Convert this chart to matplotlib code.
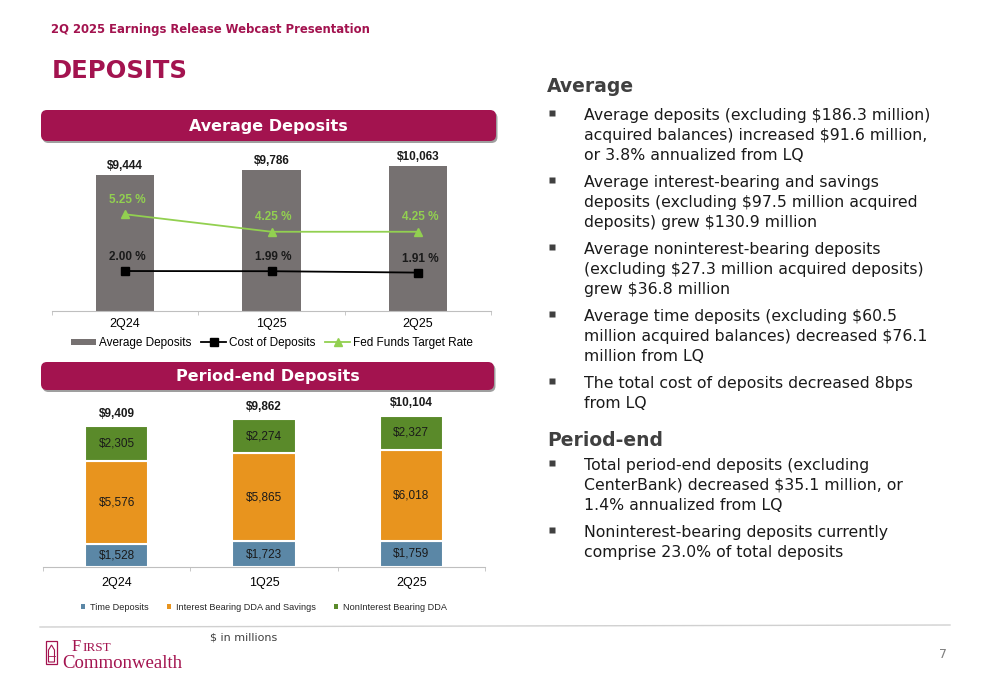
import matplotlib
matplotlib.use('Agg')
import matplotlib.pyplot as plt
from matplotlib.patches import FancyBboxPatch, Rectangle, Polygon
import numpy as np

# ---------------- data ----------------
quarters = ['2Q24', '1Q25', '2Q25']
avg_deposits = [9444, 9786, 10063]
cost_of_deposits = [2.00, 1.99, 1.91]
fed_funds_rate = [5.25, 4.25, 4.25]

time_deposits = [1528, 1723, 1759]
ib_dda_savings = [5576, 5865, 6018]
nonib_dda = [2305, 2274, 2327]
period_end_totals = [9409, 9862, 10104]

avg_bullets = [
    ["Average deposits (excluding $186.3 million)",
     "acquired balances) increased $91.6 million,",
     "or 3.8% annualized from LQ"],
    ["Average interest-bearing and savings",
     "deposits (excluding $97.5 million acquired",
     "deposits) grew $130.9 million"],
    ["Average noninterest-bearing deposits",
     "(excluding $27.3 million acquired deposits)",
     "grew $36.8 million"],
    ["Average time deposits (excluding $60.5",
     "million acquired balances) decreased $76.1",
     "million from LQ"],
    ["The total cost of deposits decreased 8bps",
     "from LQ"],
]
pe_bullets = [
    ["Total period-end deposits (excluding",
     "CenterBank) decreased $35.1 million, or",
     "1.4% annualized from LQ"],
    ["Noninterest-bearing deposits currently",
     "comprise 23.0% of total deposits"],
]

# ---------------- style ----------------
CRIMSON = '#A3134F'
GRAY_BAR = '#767171'
GREEN_LINE = '#92D050'
BLUE = '#5B87A6'
ORANGE = '#E8941E'
GREEN = '#5A8A2A'
ARIAL = 'Liberation Sans'

W, H = 1000, 685
fig = plt.figure(figsize=(10, 6.85), dpi=100)


def fax(x0, y0, x1, y1):
    return [x0 / W, 1 - y1 / H, (x1 - x0) / W, (y1 - y0) / H]


ov = fig.add_axes([0, 0, 1, 1])
ov.set_xlim(0, W)
ov.set_ylim(H, 0)
ov.axis('off')

# header
ov.text(51, 29, "2Q 2025 Earnings Release Webcast Presentation", color=CRIMSON,
        fontsize=8.4, fontweight='bold', ha='left', va='center', family='DejaVu Sans')
ov.text(52, 71, "DEPOSITS", color=CRIMSON, fontsize=17.5, fontweight='bold',
        ha='left', va='center', family='DejaVu Sans')


def banner(x0, y0, x1, y1, title):
    sh = FancyBboxPatch((x0 + 1.5, y0 + 2), x1 - x0, y1 - y0,
                        boxstyle='round,pad=0,rounding_size=6',
                        fc='#777777', ec='none', alpha=0.7)
    ov.add_patch(sh)
    b = FancyBboxPatch((x0, y0), x1 - x0, y1 - y0,
                       boxstyle='round,pad=0,rounding_size=6',
                       fc=CRIMSON, ec='none')
    ov.add_patch(b)
    ov.text((x0 + x1) / 2, (y0 + y1) / 2 + 0.5, title, color='white', fontsize=11.5,
            fontweight='bold', ha='center', va='center', family='DejaVu Sans')


banner(41, 110, 496, 141, "Average Deposits")
banner(41, 362, 494, 390, "Period-end Deposits")

x = np.arange(len(quarters))

# ---------------- top chart ----------------
ax1 = fig.add_axes(fax(52, 145, 491, 311))
ax1.set_facecolor('none')
bars = ax1.bar(x, avg_deposits, width=0.4, color=GRAY_BAR, label='Average Deposits', zorder=2)
ax1.set_xlim(-0.5, 2.5)
ax1.set_ylim(0, 11550)
for s in ['top', 'right', 'left']:
    ax1.spines[s].set_visible(False)
ax1.spines['bottom'].set_color('#BFBFBF')
ax1.set_yticks([])
ax1.set_xticks(x)
ax1.set_xticklabels(quarters, fontsize=9, family=ARIAL)
ax1.tick_params(axis='x', which='major', length=0, pad=5.2)
ax1.set_xticks([-0.5, 0.5, 1.5, 2.5], minor=True)
ax1.tick_params(axis='x', which='minor', length=3, color='#BFBFBF', direction='out')
for xi, v in zip(x, avg_deposits):
    ax1.annotate(f'${v:,}', (xi, v), xytext=(0, 7), textcoords='offset points',
                 ha='center', va='center', fontsize=8.5, fontweight='bold', family=ARIAL,
                 color='#1a1a1a')

ax1b = ax1.twinx()
ax1b.set_ylim(-0.29, 9.22)
ax1b.axis('off')
l1, = ax1b.plot(x, cost_of_deposits, color='black', lw=1.3, marker='s', ms=5.5,
                label='Cost of Deposits', zorder=3)
l2, = ax1b.plot(x, fed_funds_rate, color=GREEN_LINE, lw=1.3, marker='^', ms=5.5,
                label='Fed Funds Target Rate', zorder=3)
for xi, v in zip(x, cost_of_deposits):
    ax1b.annotate(f'{v:.2f} %', (xi, v), xytext=(1.5, 10), textcoords='offset points',
                  ha='center', va='center', fontsize=8.5, fontweight='bold', family=ARIAL,
                  color='#1a1a1a')
for xi, v in zip(x, fed_funds_rate):
    ax1b.annotate(f'{v:.2f} %', (xi, v), xytext=(1.5, 10.5), textcoords='offset points',
                  ha='center', va='center', fontsize=8.5, fontweight='bold', family=ARIAL,
                  color=GREEN_LINE)

leg1 = ax1.legend(handles=[bars, l1, l2], loc='center',
                  bbox_to_anchor=(272 / W, 1 - 343 / H), bbox_transform=fig.transFigure,
                  ncol=3, frameon=False, handlelength=2.1, handleheight=0.45,
                  handletextpad=0.25, columnspacing=0.85,
                  prop={'family': ARIAL, 'size': 8.5})

# ---------------- bottom chart ----------------
ax2 = fig.add_axes(fax(43, 395, 485, 567))
ax2.set_facecolor('none')
bw = 0.43
b1 = ax2.bar(x, time_deposits, bw, color=BLUE, edgecolor='white', lw=1.5,
             label='Time Deposits', zorder=2)
b2 = ax2.bar(x, ib_dda_savings, bw, bottom=time_deposits, color=ORANGE, edgecolor='white',
             lw=1.5, label='Interest Bearing DDA and Savings', zorder=2)
b3 = ax2.bar(x, nonib_dda, bw, bottom=np.add(time_deposits, ib_dda_savings), color=GREEN,
             edgecolor='white', lw=1.5, label='NonInterest Bearing DDA', zorder=2)
ax2.set_xlim(-0.5, 2.5)
ax2.set_ylim(0, 11475)
for s in ['top', 'right', 'left']:
    ax2.spines[s].set_visible(False)
ax2.spines['bottom'].set_color('#BFBFBF')
ax2.set_yticks([])
ax2.set_xticks(x)
ax2.set_xticklabels(quarters, fontsize=9, family=ARIAL)
ax2.tick_params(axis='x', which='major', length=0, pad=7)
ax2.set_xticks([-0.5, 0.5, 1.5, 2.5], minor=True)
ax2.tick_params(axis='x', which='minor', length=3, color='#BFBFBF', direction='out')

for cont, vals in [(b1, time_deposits), (b2, ib_dda_savings), (b3, nonib_dda)]:
    ax2.bar_label(cont, labels=[f'${v:,}' for v in vals], label_type='center',
                  fontsize=8.5, family=ARIAL, color='#1a1a1a')
for xi, v in zip(x, period_end_totals):
    ax2.annotate(f'${v:,}', (xi, v), xytext=(0, 8.8), textcoords='offset points',
                 ha='center', va='center', fontsize=8.5, fontweight='bold', family=ARIAL,
                 color='#1a1a1a')

leg2 = ax2.legend(handles=[b1, b2, b3], loc='center',
                  bbox_to_anchor=(264 / W, 1 - 607 / H), bbox_transform=fig.transFigure,
                  ncol=3, frameon=False, handlelength=0.45, handleheight=0.45,
                  handletextpad=0.5, columnspacing=2.0,
                  prop={'family': ARIAL, 'size': 6.6})
for h in leg2.legend_handles:
    h.set_edgecolor('none')
for t in leg2.get_texts():
    t.set_color('#262626')

# ---------------- right column text ----------------
TXT = '#1a1a1a'
HEAD = '#404040'
ov.text(547, 86, "Average", color=HEAD, fontsize=13.5, fontweight='bold', ha='left',
        va='center', family='DejaVu Sans')
avg_starts = [114.3, 181.7, 248.3, 315.7, 382.3]
for y0, lines in zip(avg_starts, avg_bullets):
    ov.plot([552], [y0 - 1.3], marker='s', ms=4.2, color=HEAD, mec='none')
    for i, ln in enumerate(lines):
        ov.text(584, y0 + i * 19.8 + 5.7, ln, color=TXT, fontsize=11.3, ha='left',
                va='baseline', family='DejaVu Sans')
ov.text(547, 440, "Period-end", color=HEAD, fontsize=13.5, fontweight='bold', ha='left',
        va='center', family='DejaVu Sans')
pe_starts = [464.3, 531.7]
for y0, lines in zip(pe_starts, pe_bullets):
    ov.plot([552], [y0 - 1.3], marker='s', ms=4.2, color=HEAD, mec='none')
    for i, ln in enumerate(lines):
        ov.text(584, y0 + i * 19.8 + 5.7, ln, color=TXT, fontsize=11.3, ha='left',
                va='baseline', family='DejaVu Sans')

# ---------------- footer ----------------
ov.plot([40, 950], [627, 625], color='#D0D0D0', lw=1)
ov.text(210, 637, "$ in millions", color='#404040', fontsize=8, ha='left', va='center',
        family='DejaVu Sans')
ov.text(943, 654, "7", color='#7f7f7f', fontsize=9, ha='center', va='center',
        family='DejaVu Sans')

# logo
ov.add_patch(Rectangle((46, 641), 11, 23, fill=False, ec=CRIMSON, lw=0.9))
ov.add_patch(Polygon([[48.5, 662], [48.5, 650], [51.5, 645], [54.5, 650], [54.5, 662]],
                     closed=True, fill=False, ec=CRIMSON, lw=0.8))
ov.plot([48.5, 54.5], [656, 656], color=CRIMSON, lw=0.6)
ov.text(72, 651, "F", color=CRIMSON, fontsize=12, ha='left', va='baseline',
        family='Liberation Serif')
ov.text(82.5, 651, "IRST", color=CRIMSON, fontsize=9.5, ha='left', va='baseline',
        family='Liberation Serif')
ov.text(62, 667.5, "Commonwealth", color=CRIMSON, fontsize=13.5, ha='left', va='baseline',
        family='Liberation Serif')

fig.savefig('out.png', dpi=100)
